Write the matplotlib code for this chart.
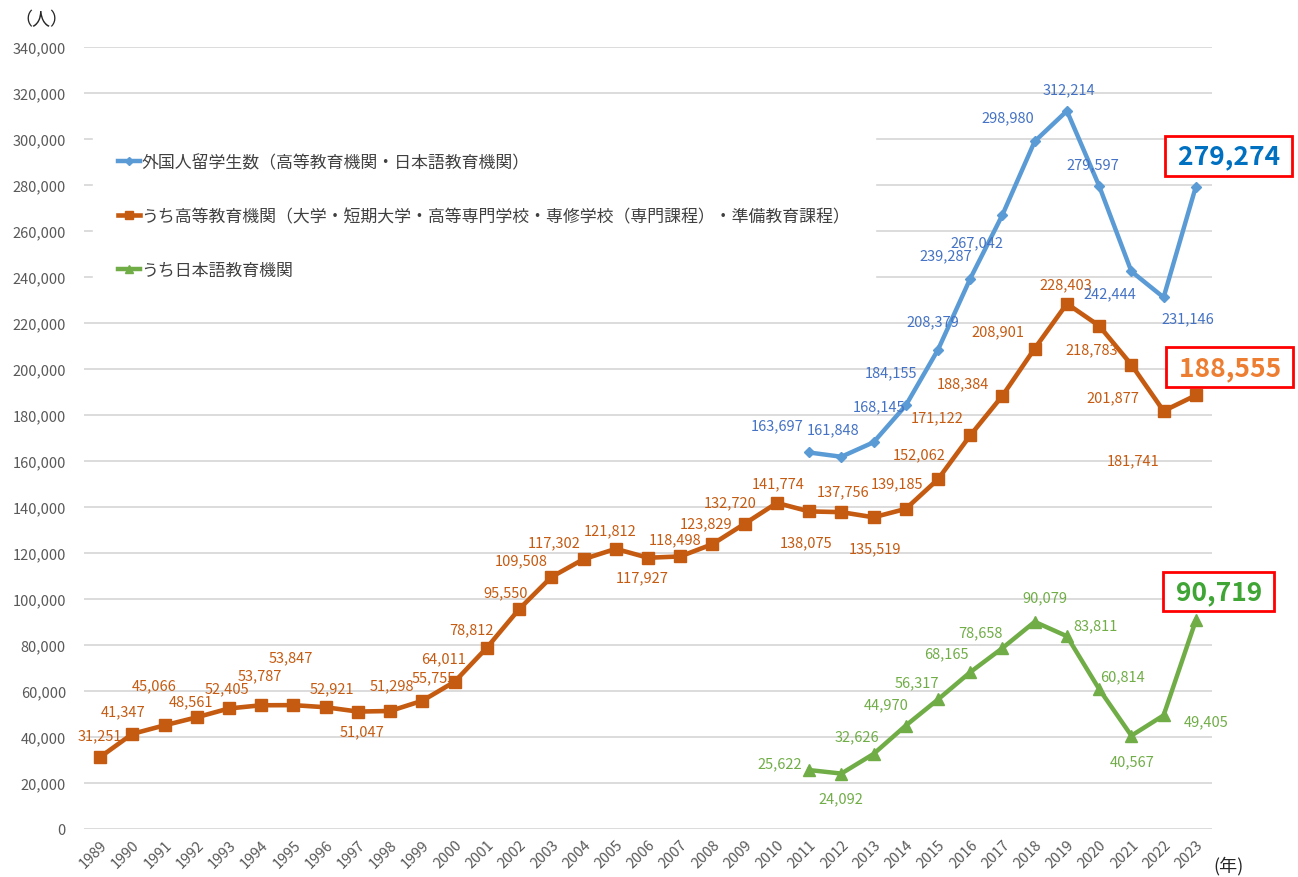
import matplotlib
matplotlib.use('Agg')
import matplotlib.pyplot as plt
from matplotlib.ticker import FuncFormatter, MultipleLocator

plt.rcParams['font.family'] = ['Noto Sans CJK JP', 'DejaVu Sans']

# data
years = list(range(1989, 2024))
years_recent = list(range(2011, 2024))

higher_ed = [31251, 41347, 45066, 48561, 52405, 53787, 53847, 52921, 51047, 51298,
             55755, 64011, 78812, 95550, 109508, 117302, 121812, 117927, 118498, 123829,
             132720, 141774, 138075, 137756, 135519, 139185, 152062, 171122, 188384, 208901,
             228403, 218783, 201877, 181741, 188555]
total = [163697, 161848, 168145, 184155, 208379, 239287, 267042, 298980, 312214, 279597,
         242444, 231146, 279274]
japanese_lang = [25622, 24092, 32626, 44970, 56317, 68165, 78658, 90079, 83811, 60814,
                 40567, 49405, 90719]

label_total = '外国人留学生数（高等教育機関・日本語教育機関）'
label_higher = 'うち高等教育機関（大学・短期大学・高等専門学校・専修学校（専門課程）・準備教育課程）'
label_jp = 'うち日本語教育機関'

# label offsets in pixels (dx, dy with y up), one per point
off_higher = [(0, 22), (-9, 23), (-10, 40), (-6, 16), (-2, 20), (-1, 30), (-3, 48), (6, 19),
              (4, -20), (2, 26), (11, 23), (-11, 23), (-15, 18), (-13, 17), (-30, 17), (-29, 17),
              (-6, 19), (-6, -20), (-5, 17), (-6, 21), (-14, 21), (1, 20), (-3, -31), (2, 21),
              (1, -31), (-9, 26), (-19, 25), (-33, 18), (-40, 12), (-37, 17), (-1, 19), (-7, -23),
              (-18, -33), (-30, -49)]
off_total = [(-32, 27), (-8, 27), (6, 36), (-15, 33), (-5, 28), (-24, 23), (-26, -27),
             (-27, 24), (2, 22), (-6, 22), (-21, -22), (24, -21)]
off_jp = [(-29, 7), (0, -25), (-17, 18), (-20, 21), (-21, 17), (-24, 19), (-22, 16),
          (10, 25), (29, 11), (23, 13), (1, -26), (43, -6)]

c_blue = '#5B9BD5'
c_blue_txt = '#4472C4'
c_orange = '#C55A11'
c_green = '#70AD47'
c_grey = '#595959'

fig = plt.figure(figsize=(12.98, 8.78), dpi=100)
ax = fig.add_axes([0.0647, 0.0547, 0.8690, 0.8906])

ax.plot(years_recent, total, color=c_blue, lw=3.2, marker='D', ms=5.5, label=label_total, zorder=4)
ax.plot(years, higher_ed, color=c_orange, lw=3.3, marker='s', ms=8, label=label_higher, zorder=3)
ax.plot(years_recent, japanese_lang, color=c_green, lw=3.2, marker='^', ms=8, label=label_jp, zorder=3)


def put_labels(xs, ys, offs, color):
    for x, y, (dx, dy) in zip(xs, ys, offs):
        ax.annotate(f'{y:,}', (x, y), xytext=(dx, dy), textcoords='offset pixels',
                    ha='center', va='center', fontsize=10.5, color=color, zorder=6)


put_labels(years[:-1], higher_ed[:-1], off_higher, c_orange)
put_labels(years_recent[:-1], total[:-1], off_total, c_blue_txt)
put_labels(years_recent[:-1], japanese_lang[:-1], off_jp, c_green)

# boxed latest values
for ys, col, dx, dy in [(total, '#0070C0', 33, 31), (higher_ed, '#ED7D31', 34, 28),
                        (japanese_lang, '#3FA535', 23, 29)]:
    ax.annotate(f' {ys[-1]:,} ', (2023, ys[-1]), xytext=(dx, dy), textcoords='offset pixels',
                ha='center', va='center', fontsize=19, fontweight='bold', color=col,
                annotation_clip=False, zorder=7,
                bbox=dict(boxstyle='square,pad=0.24', fc='white', ec='#FF0000', lw=2))

ax.set_xlim(1988.5, 2023.5)
ax.set_ylim(0, 340000)
ax.yaxis.set_major_locator(MultipleLocator(20000))
ax.yaxis.set_major_formatter(FuncFormatter(lambda v, p: f'{int(v):,}'))
ax.set_xticks(years)
ax.set_xticklabels([str(y) for y in years], rotation=45, ha='right', rotation_mode='anchor')
ax.tick_params(axis='both', length=0, colors=c_grey, labelsize=10.5)
ax.tick_params(axis='y', pad=13)
ax.tick_params(axis='x', pad=6)
ax.grid(axis='y', color='#D9D9D9', lw=1.3)
ax.set_axisbelow(True)
for s in ax.spines.values():
    s.set_visible(False)

leg = ax.legend(loc='upper left', bbox_to_anchor=(0.008, 0.897), frameon=True, fontsize=12.2,
                labelspacing=2.12, handlelength=1.25, handletextpad=0.1, borderpad=1.5,
                borderaxespad=0, fancybox=False, markerscale=0.8)
leg.get_frame().set_facecolor('white')
leg.get_frame().set_edgecolor('white')
leg.get_frame().set_alpha(1)
for t in leg.get_texts():
    t.set_color('#404040')

fig.text(0.011, 0.977, '（人）', fontsize=13, color='#262626', va='center', ha='left')
fig.text(0.935, 0.014, '(年)', fontsize=13, color='#262626', va='center', ha='left')

fig.savefig('out.png', dpi=100)
